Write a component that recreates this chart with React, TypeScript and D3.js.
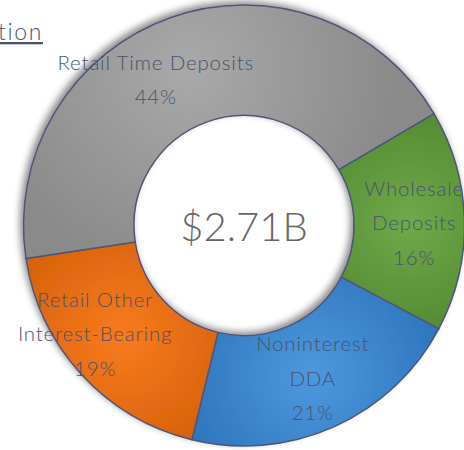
import React, { useRef, useEffect } from 'react';
import * as d3 from 'd3';

// Deposit mix, $B
const categories = ['Wholesale Deposits', 'Noninterest DDA', 'Retail Other Interest-Bearing', 'Retail Time Deposits'];
const labelLines = [['Wholesale', 'Deposits'], ['Noninterest', 'DDA'], ['Retail Other', 'Interest-Bearing'], ['Retail Time Deposits']];
const values = [0.44, 0.57, 0.51, 1.19];
const totalLabel = '$2.71B';
const titleText = 'Deposit Composition';

const lightColors = ['#70a94a', '#4d98de', '#f87b1d', '#a9a9a9'];
const darkColors = ['#4f8630', '#2f76bd', '#d4600b', '#8a8a8a'];
// manual nudges of the data labels away from the centroid
const labelNudge: [number, number][] = [[5, 1], [1, 2], [-27, -3], [-33, 10]];

const App: React.FC = () => {
  const ref = useRef<SVGSVGElement | null>(null);

  useEffect(() => {
    if (!ref.current) return;
    const svg = d3.select(ref.current);
    svg.selectAll('*').remove();

    const cx = 244;
    const cy = 225.5;
    const outerR = 220.5;
    const innerR = 110;
    const startDeg = 59.5;
    const font = 'Lato, sans-serif';
    const total = d3.sum(values);

    const pie = d3.pie<number>()
      .sort(null)
      .startAngle((startDeg * Math.PI) / 180)
      .endAngle((startDeg * Math.PI) / 180 + 2 * Math.PI);
    const arcs = pie(values);
    const arc = d3.arc<d3.PieArcDatum<number>>().innerRadius(innerR).outerRadius(outerR);

    const defs = svg.append('defs');
    const filter = defs.append('filter').attr('id', 'shadow')
      .attr('x', '-20%').attr('y', '-20%').attr('width', '140%').attr('height', '140%');
    filter.append('feDropShadow')
      .attr('dx', -3).attr('dy', -3).attr('stdDeviation', 3.5)
      .attr('flood-color', '#000').attr('flood-opacity', 0.45);

    // gradient centre sits on each slice's centroid (path coords, group is translated)
    arcs.forEach((a, i) => {
      const [gx, gy] = arc.centroid(a);
      const g = defs.append('radialGradient').attr('id', `grad${i}`)
        .attr('gradientUnits', 'userSpaceOnUse')
        .attr('cx', gx).attr('cy', gy).attr('r', i === 3 ? 210 : 130);
      g.append('stop').attr('offset', '0%').attr('stop-color', lightColors[i]);
      g.append('stop').attr('offset', '100%').attr('stop-color', darkColors[i]);
    });

    const chart = svg.append('g').attr('transform', `translate(${cx},${cy})`);

    chart.append('g').attr('filter', 'url(#shadow)')
      .selectAll('path')
      .data(arcs)
      .join('path')
      .attr('d', arc)
      .attr('fill', (_, i) => `url(#grad${i})`)
      .attr('stroke', '#4f5578')
      .attr('stroke-width', 1.5)
      .attr('stroke-linejoin', 'round');

    // data labels
    const lineH = 34.5;
    arcs.forEach((a, i) => {
      const [lx, ly] = arc.centroid(a);
      const lines = [...labelLines[i], `${Math.round((values[i] / total) * 100)}%`];
      const x = lx + labelNudge[i][0];
      const y0 = ly + labelNudge[i][1] - ((lines.length - 1) * lineH) / 2;
      const t = chart.append('text')
        .attr('text-anchor', 'middle')
        .attr('font-family', font)
        .attr('font-weight', 300)
        .attr('font-size', 20.5)
        .attr('letter-spacing', 0.8)
        .attr('fill', '#48546e');
      lines.forEach((line, j) => {
        t.append('tspan')
          .attr('x', x)
          .attr('y', y0 + j * lineH)
          .attr('dy', '0.36em')
          .text(line);
      });
      t.append('title').text(categories[i]);
    });

    chart.append('text')
      .attr('text-anchor', 'middle')
      .attr('y', 15)
      .attr('font-family', font)
      .attr('font-weight', 300)
      .attr('font-size', 40)
      .attr('fill', '#666666')
      .text(totalLabel);

    // chart title, cut by the left edge as in the source
    svg.append('text')
      .attr('x', 43)
      .attr('y', 40)
      .attr('text-anchor', 'end')
      .attr('font-family', font)
      .attr('font-weight', 300)
      .attr('font-size', 23)
      .attr('letter-spacing', 1.6)
      .attr('fill', '#44546a')
      .attr('text-decoration', 'underline')
      .text(titleText);
  }, []);

  return (
    <svg
      ref={ref}
      width={464}
      height={450}
      style={{ position: 'absolute', left: 0, top: 0, background: '#fff' }}
    />
  );
};

export default App;
